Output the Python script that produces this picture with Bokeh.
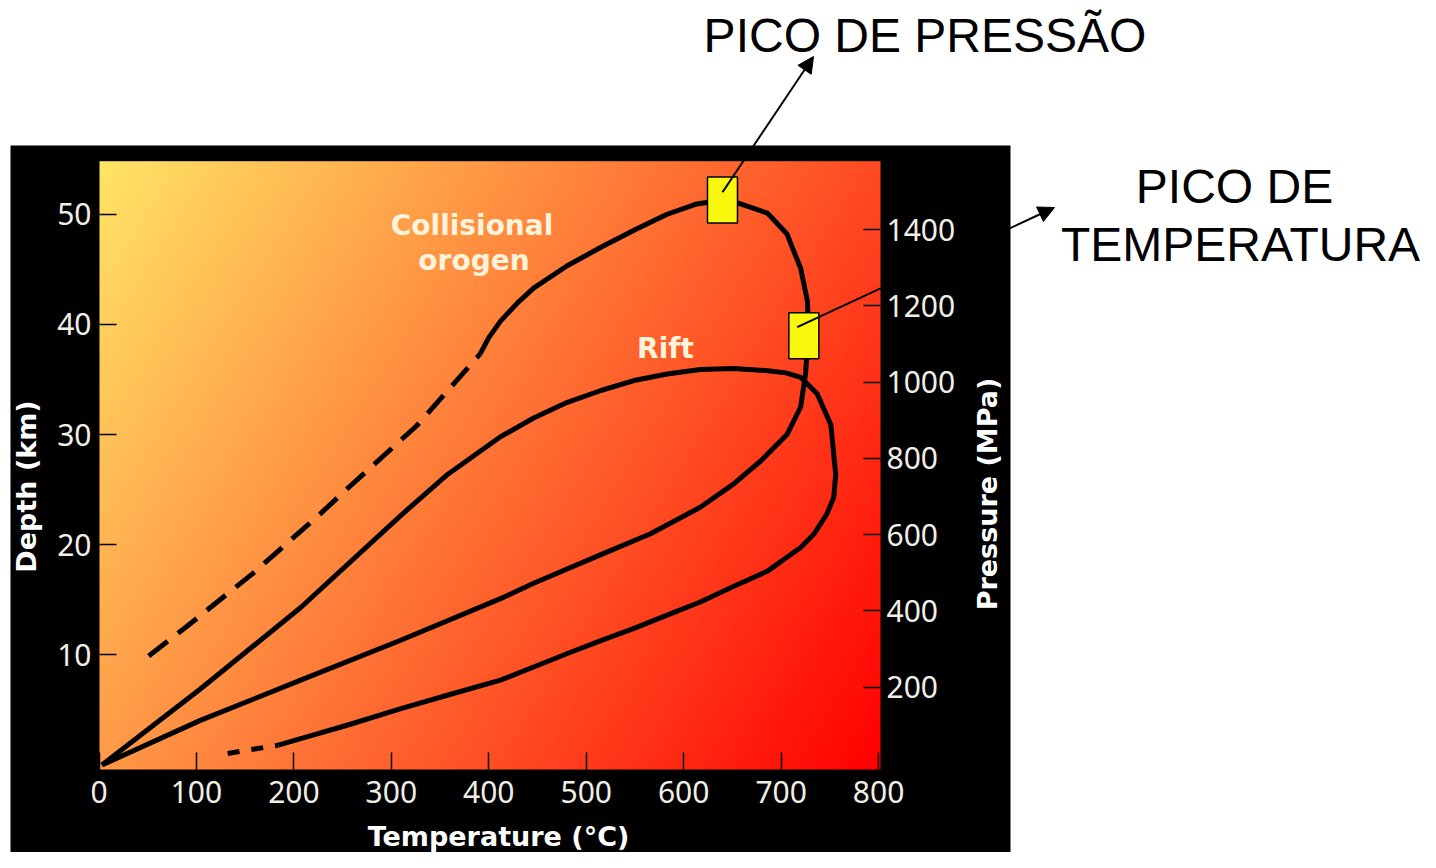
import math
import numpy as np
from bokeh.plotting import figure
from bokeh.models import Range1d, LinearAxis, FixedTicker, Arrow, NormalHead
from bokeh.core.properties import value
from bokeh.embed import file_html
from bokeh.resources import INLINE

# ---------------- data ----------------
temp_ticks = [0, 100, 200, 300, 400, 500, 600, 700, 800]
depth_ticks = [10, 20, 30, 40, 50]
pressure_ticks = [200, 400, 600, 800, 1000, 1200, 1400]

# Collisional orogen path: dashed prograde start, solid loop, back to origin
orogen_dash_T = [51, 89, 158, 227, 255, 326, 364, 391]
orogen_dash_D = [9.9, 12.5, 17.4, 22.8, 25.1, 30.8, 34.6, 37.3]
orogen_T = [391, 400, 412, 430, 446, 480, 515, 550, 583, 612, 640, 656, 686, 706,
            720, 727, 728, 726, 725, 720, 706, 679, 651, 617, 566, 515, 446, 412,
            309, 207, 104, 3]
orogen_D = [37.3, 38.8, 40.3, 42.0, 43.3, 45.3, 47.0, 48.6, 50.0, 50.9, 51.3, 51.0,
            50.1, 48.2, 45.1, 42.1, 39.5, 36.7, 35.5, 32.5, 30.0, 27.6, 25.5, 23.4,
            21.0, 19.1, 16.5, 15.1, 11.3, 7.7, 4.05, 0]

# Rift path: steep prograde from origin, loop, shallow retrograde, dashed end
rift_T = [3, 104, 207, 309, 358, 412, 446, 480, 515, 549, 583, 617, 651, 686, 705,
          720, 737, 751, 756, 754, 747, 734, 720, 686, 651, 617, 583, 549, 515, 480,
          446, 412, 360, 309, 258, 207, 184]
rift_D = [0, 6.9, 14.3, 22.6, 26.4, 29.8, 31.5, 32.9, 34.0, 34.9, 35.5, 35.9, 36.0,
          35.8, 35.6, 35.2, 33.7, 30.9, 26.4, 24.3, 22.8, 21.0, 19.75, 17.6, 16.2,
          14.8, 13.6, 12.4, 11.3, 10.1, 8.9, 7.7, 6.4, 5.1, 3.7, 2.4, 1.8]
rift_dash_T = [132, 184]
rift_dash_D = [1.05, 1.8]

# peak pressure and peak temperature markers
peak_T = [639.8, 723.3]
peak_D = [51.3, 38.96]

label_texts = ["Collisional", "orogen", "Rift"]
label_T = [382.8, 384.8, 581.3]
label_D = [49.0, 45.8, 37.8]

# ---------------- page-pixel helpers (layout only) ----------------
W, H = 1420, 852
PX_T, T0 = 0.9745, 98.5      # px per degC, page x of 0 degC
PX_D, D0 = 11.015, 764.5     # px per km, page y of 0 km


def tx(X):
    return (X - T0) / PX_T


def dy(Y):
    return (D0 - Y) / PX_D


def pres(d):
    return 28.895 * d - 4.09


p = figure(width=W, height=H,
           x_range=Range1d(tx(0), tx(W)),
           y_range=Range1d(dy(H), dy(0)),
           x_axis_type=None, y_axis_type=None,
           toolbar_location=None, output_backend="svg",
           min_border=0, background_fill_color="white",
           border_fill_color="white", outline_line_color=None)
p.grid.visible = False
p.extra_y_ranges = {"pressure": Range1d(pres(dy(H)), pres(dy(0)))}

# black panel
p.quad(left=tx(10), right=tx(1010), bottom=dy(900), top=dy(145),
       fill_color="black", line_color=None)

# gradient background of plot area
ny, nx = 300, 390
u = np.linspace(0, 1, nx)[None, :]
v = np.linspace(0, 1, ny)[:, None]


def bil(tl, tr, bl, br):
    return (bl * (1 - u) + br * u) * (1 - v) + (tl * (1 - u) + tr * u) * v


img = np.empty((ny, nx), dtype=np.uint32)
view = img.view(dtype=np.uint8).reshape((ny, nx, 4))
view[..., 0] = np.clip(bil(255, 255, 255, 255), 0, 255).astype(np.uint8)
view[..., 1] = np.clip(bil(229, 74, 154, 0), 0, 255).astype(np.uint8)
view[..., 2] = np.clip(bil(102, 34, 72, 0), 0, 255).astype(np.uint8)
view[..., 3] = 255
p.image_rgba(image=[img], x=tx(99), y=dy(769), dw=tx(880) - tx(99),
             dh=dy(160.7) - dy(769))

# curves
LW = 5
p.line(orogen_dash_T, orogen_dash_D, line_color="black", line_width=LW,
       line_dash="24 13")
p.line(orogen_T, orogen_D, line_color="black", line_width=LW, line_join="round")
p.line(rift_T, rift_D, line_color="black", line_width=LW, line_join="round")
p.line(rift_dash_T, rift_dash_D, line_color="black", line_width=LW,
       line_dash="12 12")

# peak boxes
p.rect(x=peak_T, y=peak_D, width=30, height=46, width_units="screen",
       height_units="screen", fill_color="#f9f70b", line_color="black",
       line_width=1.5)

# in-plot labels
p.text(x=label_T, y=label_D, text=label_texts, text_align="center",
       text_baseline="alphabetic", text_font=value("DejaVu Sans"),
       text_font_style="bold", text_font_size="28px", text_color="#fff3dc")

# axes
tick_font = "Noto Sans"
tick_color = "#f0efe6"

xax = LinearAxis(fixed_location=dy(769), ticker=FixedTicker(ticks=temp_ticks),
                 bounds=(0, 819), axis_label="Temperature (°C)")
yax = LinearAxis(fixed_location=tx(99), ticker=FixedTicker(ticks=depth_ticks),
                 bounds=(0, 50.6), axis_label="Depth (km)")
pax = LinearAxis(fixed_location=tx(880), y_range_name="pressure",
                 ticker=FixedTicker(ticks=pressure_ticks), bounds=(0, 1500))
for ax in (xax, yax, pax):
    ax.axis_line_color = None
    ax.major_tick_line_color = "black"
    ax.major_tick_line_width = 1.5
    ax.major_tick_in = 17
    ax.major_tick_out = 0
    ax.minor_tick_line_color = None
    ax.major_label_text_font = tick_font
    ax.major_label_text_font_size = "30px"
    ax.major_label_text_color = tick_color
    ax.axis_label_text_font = "DejaVu Sans"
    ax.axis_label_text_font_style = "bold"
    ax.axis_label_text_font_size = "27px"
    ax.axis_label_text_color = "white"
xax.major_label_standoff = 11
xax.axis_label_standoff = 15
yax.major_label_standoff = 8
yax.axis_label_standoff = 12
pax.major_label_standoff = 6
p.add_layout(xax, "below")
p.add_layout(yax, "left")
p.add_layout(pax, "right")

p.text(x=[tx(987)], y=[dy(493.5)], text=["Pressure (MPa)"], angle=math.pi / 2,
       text_align="center", text_baseline="middle",
       text_font=value("DejaVu Sans"), text_font_style="bold",
       text_font_size="27px", text_color="white")

# annotations outside the chart
p.text(x=[tx(924.5)], y=[dy(35)], text=["PICO DE PRESSÃO"], text_align="center",
       text_baseline="alphabetic", text_font=value("Liberation Sans"),
       text_font_size="48px", text_color="black")
p.text(x=[tx(1234), tx(1240)], y=[dy(186), dy(244)],
       text=["PICO DE", "TEMPERATURA"], text_align="center",
       text_baseline="alphabetic", text_font=value("Liberation Sans"),
       text_font_size="48px", text_color="black")

p.add_layout(Arrow(end=NormalHead(size=16, fill_color="black", line_color="black"),
                   x_start=peak_T[0], y_start=dy(191.7),
                   x_end=tx(813), y_end=dy(56),
                   line_color="black", line_width=2))
p.add_layout(Arrow(end=NormalHead(size=16, fill_color="black", line_color="black"),
                   x_start=tx(796.7), y_start=dy(326.7),
                   x_end=tx(1054), y_end=dy(207),
                   line_color="black", line_width=2))

open("out.html", "w").write(file_html(p, INLINE))
